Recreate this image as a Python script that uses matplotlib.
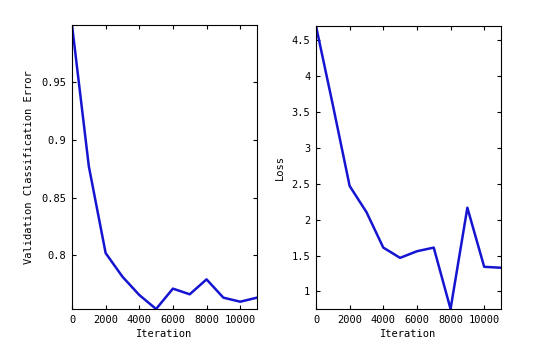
import matplotlib
matplotlib.use("Agg")
import matplotlib.pyplot as plt

iterations = [0, 1000, 2000, 3000, 4000, 5000, 6000, 7000, 8000, 9000, 10000, 11000]
val_error = [0.999, 0.877, 0.802, 0.7816, 0.7658, 0.7537, 0.7713, 0.7664, 0.7793, 0.7635, 0.760, 0.7635]
loss = [4.70, 3.60, 2.47, 2.106, 1.611, 1.468, 1.56, 1.611, 0.755, 2.167, 1.343, 1.33]

err_ticks = [0.8, 0.85, 0.9, 0.95]
err_ticklabels = ["0.8", "0.85", "0.9", "0.95"]
loss_ticks = [1, 1.5, 2, 2.5, 3, 3.5, 4, 4.5]
loss_ticklabels = ["1", "1.5", "2", "2.5", "3", "3.5", "4", "4.5"]
x_ticks = [0, 2000, 4000, 6000, 8000, 10000]

plt.rcParams['font.family'] = ['DejaVu Sans Mono']
plt.rcParams['font.size'] = 7.5

W, H = 554, 347
fig = plt.figure(figsize=(W / 100, H / 100), dpi=100)

def make_ax(left, right, top, bottom):
    return fig.add_axes([left / W, 1 - bottom / H, (right - left) / W, (bottom - top) / H])

ax1 = make_ax(72, 257, 25, 309)
ax2 = make_ax(316, 501, 26, 309)

color = (0.08, 0.08, 0.82)
for ax, y, yt, ytl, ylab in [
    (ax1, val_error, err_ticks, err_ticklabels, "Validation Classification Error"),
    (ax2, loss, loss_ticks, loss_ticklabels, "Loss"),
]:
    ax.plot(iterations, y, color=color, linewidth=1.8)
    ax.set_xlim(0, 11000)
    ax.set_ylim(min(y), max(y))
    ax.set_xticks(x_ticks)
    ax.set_xticklabels([str(t) for t in x_ticks])
    ax.set_yticks(yt)
    ax.set_yticklabels(ytl)
    ax.tick_params(direction='in', top=True, right=True, length=3, width=0.8, pad=4, labelsize=7.5)
    ax.set_xlabel("Iteration", fontsize=7.5, labelpad=3)
    ax.set_ylabel(ylab, fontsize=7.5, labelpad=5)
    for s in ax.spines.values():
        s.set_linewidth(0.8)

fig.savefig("out.png", dpi=100)
